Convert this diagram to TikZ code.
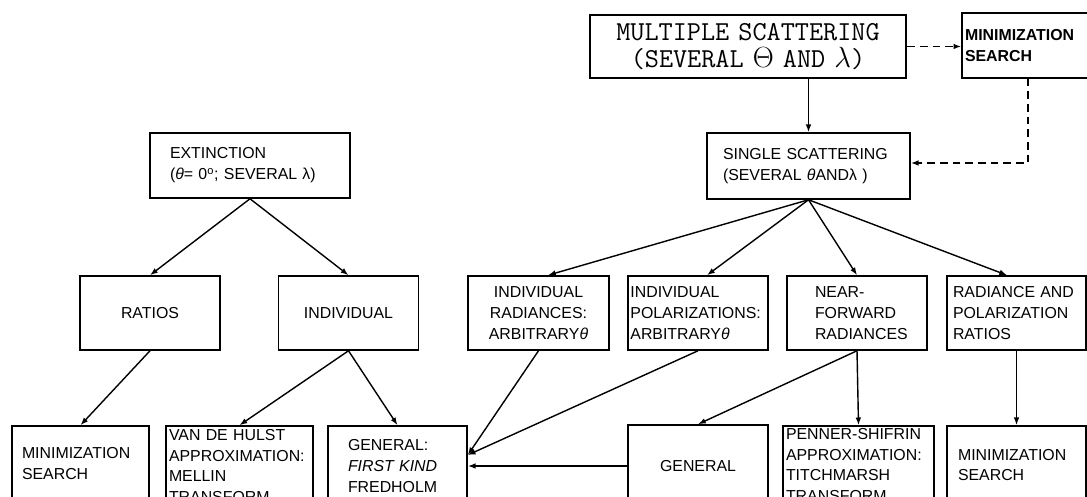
\documentclass[tikz,border=0pt]{standalone}
\usepackage{fontspec}
\setmainfont{Liberation Sans}
\usetikzlibrary{arrows.meta,calc}

\begin{document}
\begin{tikzpicture}[>={Latex[length=5.5pt,width=4pt]},
    box/.style={draw, line width=1.1pt, inner ysep=0pt, font=\fontsize{11.3}{14.8}\selectfont},
    link/.style={->, line width=1pt},
    dlink/.style={->, line width=1pt, dash pattern=on 5.5pt off 3.5pt}]
  \useasboundingbox (0,0) rectangle (27.175,-12.425);
  \clip (0,0) rectangle (27.175,-12.425);

  % top: the two scattering problems
  \node[box, line width=2pt, text width=7.7cm, inner xsep=0.1cm, minimum height=1.575cm, align=center,
        font=\ttfamily\addfontfeatures{LetterSpace=6}\fontsize{19.5}{19.5}\selectfont] (ms) at (18.7,-1.1625) {MULTIPLE SCATTERING\\(SEVERAL $\Theta$ AND $\lambda$)};
  \node[box, text width=3.55cm, inner xsep=0.075cm, minimum height=1.625cm, align=left,
        font=\bfseries\fontsize{11.3}{14.8}\selectfont] (minA) at (25.9,-1.1375) {MINIMIZATION\\SEARCH};
  \node[box, text width=4.275cm, inner xsep=0.4cm, minimum height=1.65cm, align=left] (ss) at (20.2125,-4.15) {SINGLE SCATTERING\\(SEVERAL \textit{θ}ANDλ )};
  \node[box, text width=4cm, inner xsep=0.5cm, minimum height=1.625cm, align=left] (ext) at (6.25,-4.1375) {EXTINCTION\\(\textit{θ}= 0\textsuperscript{o}; SEVERAL λ)};

  % middle row
  \node[box, text width=3.3cm, inner xsep=0.1cm, minimum height=1.85cm, align=center] (ratios) at (3.75,-7.825) {RATIOS};
  \node[box, text width=3.3cm, inner xsep=0.1cm, minimum height=1.85cm, align=center] (indiv) at (8.7125,-7.825) {INDIVIDUAL};
  \node[box, text width=3.325cm, inner xsep=0.1cm, minimum height=1.85cm, align=center] (indRad) at (13.4625,-7.825) {INDIVIDUAL\\RADIANCES:\\ARBITRARY\textit{θ}};
  \node[box, text width=3.38cm, inner xsep=0.06cm, minimum height=1.85cm, align=left] (indPol) at (17.45,-7.825) {INDIVIDUAL\\POLARIZATIONS:\\ARBITRARY\textit{θ}};
  \node[box, text width=2.1cm, inner xsep=0.7cm, minimum height=1.85cm, align=left] (near) at (21.425,-7.825) {NEAR-\\FORWARD\\RADIANCES};
  \node[box, text width=3.175cm, inner xsep=0.15cm, minimum height=1.85cm, align=left] (radPol) at (25.4125,-7.825) {RADIANCE AND\\POLARIZATION\\RATIOS};

  % bottom row
  \node[box, text width=2.925cm, inner xsep=0.25cm, minimum height=1.875cm, align=left] (minL) at (2.0125,-11.5875) {MINIMIZATION\\SEARCH};
  \node[box, text width=3.525cm, inner xsep=0.075cm, minimum height=2cm, align=left] (van) at (5.9875,-11.65) {VAN DE HULST\\APPROXIMATION:\\MELLIN\\TRANSFORM};
  \node[box, text width=2.475cm, inner xsep=0.5cm, minimum height=2cm, align=left] (genFK) at (9.9375,-11.65) {GENERAL:\\\textit{FIRST KIND}\\FREDHOLM};
  \node[box, text width=3.3cm, inner xsep=0.1cm, minimum height=2.05cm, align=center] (genF) at (17.45,-11.65) {GENERAL};
  \node[box, text width=3.625cm, inner xsep=0.075cm, minimum height=1.95cm, align=left] (penner) at (21.4625,-11.625) {PENNER-SHIFRIN\\APPROXIMATION:\\TITCHMARSH\\TRANSFORM};
  \node[box, text width=2.925cm, inner xsep=0.275cm, minimum height=1.95cm, align=left] (minR) at (25.4125,-11.625) {MINIMIZATION\\SEARCH};

  \coordinate (dturn) at (25.7,-4.075);
  \coordinate (fkIn) at ($(genFK.east)+(0,0.275)$);

  \draw[dlink] (ms.east) -- (ms.east -| minA.west);
  \draw[dlink] (minA.south -| dturn) -- (dturn) -- (dturn -| ss.east);
  \draw[link] (ms.south -| ss.north) -- (ss.north);

  \draw[link] (ext.south) -- (ratios.north);
  \draw[link] (ext.south) -- (indiv.north);
  \draw[link] (ratios.south) -- (minL.north);
  \draw[link] (indiv.south) -- (van.north);
  \draw[link] (indiv.south) -- (genFK.north);

  \draw[link] (ss.south) -- ($(indRad.north)+(0.2375,0)$);
  \draw[link] (ss.south) -- ($(indPol.north)+(0.225,0)$);
  \draw[link] (ss.south) -- (near.north);
  \draw[link] (ss.south) -- ($(radPol.north)+(-0.2375,0)$);

  \draw[link] (indRad.south) -- (fkIn);
  \draw[link] (indPol.south) -- (fkIn);
  \draw[link] (genF.west) -- (genFK.east);
  \draw[link] (near.south) -- (genF.north);
  \draw[link] (near.south) -- (penner.north);
  \draw[link] (radPol.south) -- (minR.north);
\end{tikzpicture}
\end{document}
